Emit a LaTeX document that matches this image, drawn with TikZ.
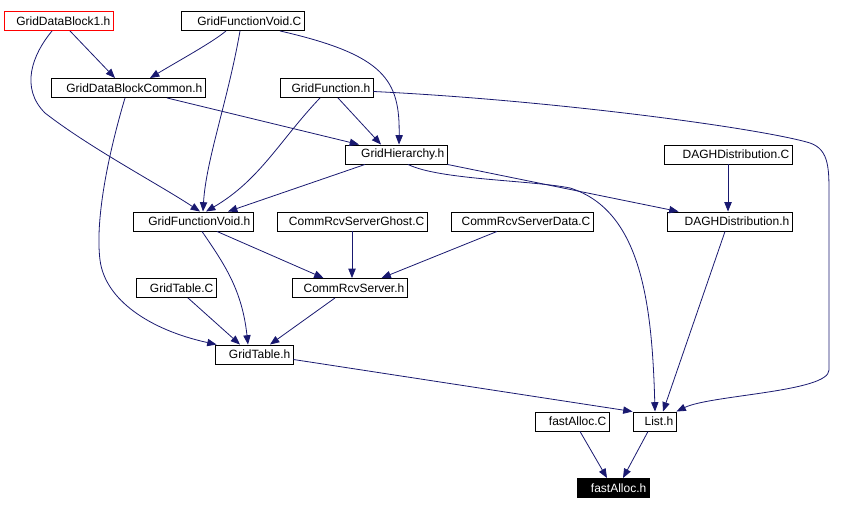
\documentclass[tikz,border=0pt]{standalone}
\usepackage{fontspec}
\setmainfont{Liberation Sans}
\usetikzlibrary{arrows.meta, calc}
\definecolor{EdgeBlue}{HTML}{191970}

\begin{document}
\begin{tikzpicture}[x=0.75pt, y=-0.75pt, >={Triangle[length=7pt,width=5.5pt]},
        box/.style={rectangle, draw=black, fill=white, line width=0.7pt, inner xsep=2pt, inner ysep=0pt, minimum height=14.25pt, align=right, font=\fontsize{9}{10}\selectfont},
        edge/.style={->, line width=0.6pt, EdgeBlue}]

        \useasboundingbox (0,0) rectangle (845,509);

        \node[box, draw=red, text width=77.75pt] (gdb1) at (58.5,21) {GridDataBlock1.h};
        \node[box, text width=88.25pt] (gfvC) at (242.5,21) {GridFunctionVoid.C};
        \node[box, text width=111.5pt] (gdbc) at (128,88) {GridDataBlockCommon.h};
        \node[box, text width=65.75pt] (gfh) at (326.5,88) {GridFunction.h};
        \node[box, text width=72.5pt] (gh) at (396,154.5) {GridHierarchy.h};
        \node[box, text width=92pt] (daghC) at (728,154.5) {DAGHDistribution.C};
        \node[box, text width=89.75pt] (daghH) at (729.5,221.5) {DAGHDistribution.h};
        \node[box, text width=86pt] (gfvh) at (193,221.5) {GridFunctionVoid.h};
        \node[box, text width=108.5pt] (crsg) at (352,221.5) {CommRcvServerGhost.C};
        \node[box, text width=102.5pt] (crsd) at (522,221.5) {CommRcvServerData.C};
        \node[box, text width=56pt] (gtC) at (176,288) {GridTable.C};
        \node[box, text width=82.25pt] (crsh) at (349.5,288) {CommRcvServer.h};
        \node[box, text width=54.5pt] (gth) at (254,354.5) {GridTable.h};
        \node[box, text width=51.5pt] (faC) at (572,421.5) {fastAlloc.C};
        \node[box, text width=28.25pt] (list) at (654.5,421.5) {List.h};
        \node[box, fill=black, text=white, text width=50pt] (fah) at (613,488) {fastAlloc.h};

        % top rows
        \draw[edge] ($(gdb1.south)+(11.5,0)$) -- ($(gdbc.north)+(-13,0)$);
        \draw[edge] ($(gdb1.south)+(-6.5,0)$) .. controls (32,55) and (20,88) .. (45,113)
            .. controls (90,148) and (160,185) .. ($(gfvh.north)+(7,0)$);
        \draw[edge] ($(gfvC.south)+(-16.5,0)$) .. controls (213,42) and (180,60) .. ($(gdbc.north)+(22,0)$);
        \draw[edge] ($(gfvC.south)+(-2.5,0)$) .. controls (228,100) and (206,160) .. ($(gfvh.north)+(10,0)$);
        \draw[edge] ($(gfvC.south)+(37.5,0)$) .. controls (385,55) and (400,80) .. ($(gh.north)+(3,0)$);
        \draw[edge] ($(gdbc.south)+(39,0)$) -- ($(gh.north)+(-37,0)$);
        \draw[edge] ($(gdbc.south)+(-3,0)$) .. controls (108,155) and (95,220) .. (100,260)
            .. controls (105,300) and (150,330) .. ($(gth.north west)+(2,0)$);
        \draw[edge] ($(gfh.south)+(11.5,0)$) -- ($(gh.north)+(-15,0)$);
        \draw[edge] ($(gfh.south)+(-6.5,0)$) .. controls (280,140) and (260,180) .. ($(gfvh.north)+(13,0)$);
        \draw[edge] ($(gfh.east)+(0,3.5)$) .. controls (550,100) and (760,128) .. (810,143)
            .. controls (830,150) and (829,170) .. (829,200) -- (829,370)
            .. controls (829,392) and (710,395) .. (list.north east);

        % middle
        \draw[edge] ($(gh.south)+(-31,0)$) -- ($(gfvh.north)+(35,0)$);
        \draw[edge] (gh.south east) -- ($(daghH.north west)+(12,0)$);
        \draw[edge] ($(gh.south)+(12,0)$) .. controls (440,180) and (530,180) .. (570,188)
            .. controls (640,210) and (652,300) .. ($(list.north)+(0.5,0)$);
        \draw[edge] (daghC.south) -- (daghC.south |- daghH.north);
        \draw[edge] ($(daghH.south)+(-4.5,0)$) -- ($(list.north)+(8.5,0)$);
        \draw[edge] ($(gfvh.south)+(24,0)$) -- ($(crsh.north)+(-26,0)$);
        \draw[edge] ($(gfvh.south)+(9,0)$) .. controls (225,265) and (242,290) .. ($(gth.north)+(-6,0)$);
        \draw[edge] (crsg.south) -- (crsg.south |- crsh.north);
        \draw[edge] ($(crsd.south)+(-25,0)$) -- ($(crsh.north)+(32,0)$);

        % bottom
        \draw[edge] ($(gtC.south)+(12,0)$) -- ($(gth.north)+(-14,0)$);
        \draw[edge] ($(crsh.south)+(-14.5,0)$) -- ($(gth.north)+(16,0)$);
        \draw[edge] ($(gth.east)+(0,5)$) -- (list.north west);
        \draw[edge] ($(faC.south)+(8,0)$) -- ($(fah.north)+(-6,0)$);
        \draw[edge] ($(list.south)+(-6.5,0)$) -- ($(fah.north)+(10,0)$);
    \end{tikzpicture}
\end{document}
